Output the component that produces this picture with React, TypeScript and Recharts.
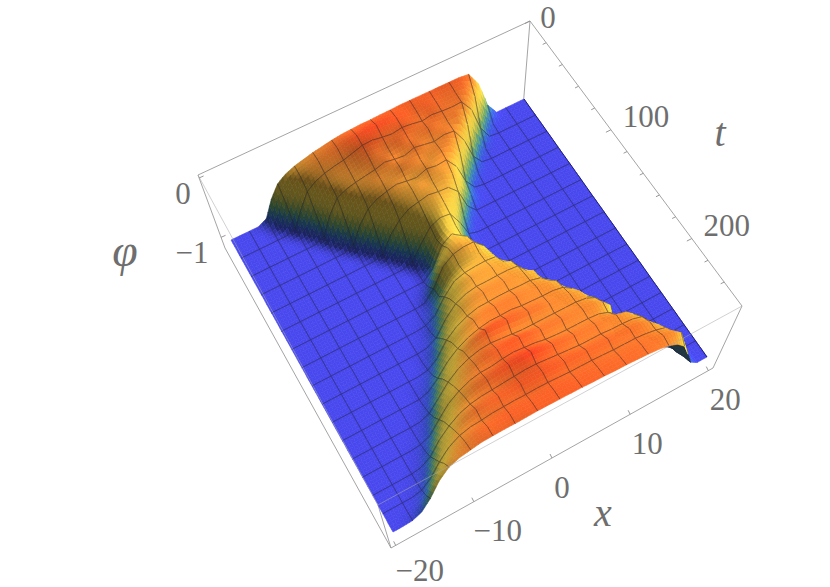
import React from "react";
import { ScatterChart, Scatter, XAxis, YAxis } from "recharts";

// tick labels
const xTicks = [-20, -10, 0, 10, 20];
const tTicks = [0, 20, 40, 60, 80, 100, 120, 140, 160, 180, 200, 220, 240];
const tLabelled = [0, 100, 200];
const phiTicks = [0, -1];

// phi: rows run along t (0..260), columns along x (-20..20), 33 samples each.
// a row stops where the floor (-1) carries on to the x = 20 edge
const phiRows: number[][] = [
  [-1,-1,-1,-1,-.93,-.66,-.46,-.36,-.3,-.26,-.22,-.19,-.16,-.14,-.13,-.12,-.12,-.11,-.11,-.1,-.1,-.1,-.1,-.1,-.1,-.1,-.12,-.36,-.8],
  [-1,-1,-1,-1,-1,-.93,-.64,-.42,-.32,-.26,-.21,-.17,-.14,-.1,-.07,-.05,-.05,-.06,-.08,-.1,-.12,-.1,-.12,-.14,-.13,-.14,-.36,-.76,-.98],
  [-1,-1,-1,-1,-1,-1,-.95,-.68,-.44,-.33,-.27,-.23,-.2,-.15,-.1,-.09,-.12,-.14,-.11,-.13,-.16,-.13,-.15,-.16,-.15,-.36,-.76,-.98],
  [-1,-1,-1,-1,-1,-1,-1,-.95,-.68,-.42,-.32,-.27,-.24,-.2,-.15,-.16,-.18,-.13,-.15,-.18,-.14,-.17,-.19,-.17,-.4,-.8,-.98],
  [-1,-1,-1,-1,-1,-1,-1,-1,-.93,-.62,-.4,-.32,-.28,-.25,-.22,-.17,-.2,-.22,-.16,-.19,-.22,-.18,-.2,-.44,-.8,-.98],
  [-1,-1,-1,-1,-1,-1,-1,-1,-1,-.93,-.62,-.42,-.33,-.27,-.24,-.26,-.2,-.18,-.22,-.25,-.2,-.22,-.44,-.78,-.97],
  [-1,-1,-1,-1,-1,-1,-1,-1,-1,-1,-.93,-.64,-.44,-.34,-.29,-.25,-.28,-.3,-.23,-.26,-.24,-.44,-.78,-.97],
  [-1,-1,-1,-1,-1,-1,-1,-1,-1,-1,-1,-.95,-.68,-.48,-.37,-.32,-.29,-.26,-.3,-.27,-.33,-.56,-.88],
  [-1,-1,-1,-1,-1,-1,-1,-1,-1,-1,-1,-1,-.95,-.68,-.5,-.38,-.34,-.3,-.33,-.34,-.5,-.84],
  [-1,-1,-1,-1,-1,-1,-1,-1,-1,-1,-1,-1,-1,-.95,-.7,-.5,-.4,-.35,-.37,-.46,-.78,-.98],
  [-1,-1,-1,-1,-1,-1,-1,-1,-1,-1,-1,-1,-1,-1,-.95,-.7,-.48,-.4,-.42,-.66,-.95],
  [-1,-1,-1,-1,-1,-1,-1,-1,-1,-1,-1,-1,-1,-1,-1,-.88,-.54,-.42,-.48,-.8],
  [-1,-1,-1,-1,-1,-1,-1,-1,-1,-1,-1,-1,-1,-1,-1,-.85,-.5,-.38,-.5,-.9],
  [-1,-1,-1,-1,-1,-1,-1,-1,-1,-1,-1,-1,-1,-1,-.93,-.62,-.38,-.32,-.36,-.7,-.96],
  [-1,-1,-1,-1,-1,-1,-1,-1,-1,-1,-1,-1,-1,-.98,-.8,-.48,-.34,-.3,-.3,-.46,-.82],
  [-1,-1,-1,-1,-1,-1,-1,-1,-1,-1,-1,-1,-1,-.95,-.78,-.52,-.38,-.36,-.34,-.4,-.72,-.97],
  [-1,-1,-1,-1,-1,-1,-1,-1,-1,-1,-1,-1,-.98,-.88,-.62,-.42,-.36,-.34,-.33,-.35,-.54,-.9],
  [-1,-1,-1,-1,-1,-1,-1,-1,-1,-1,-1,-1,-.95,-.76,-.5,-.36,-.28,-.27,-.28,-.3,-.37,-.68,-.97],
  [-1,-1,-1,-1,-1,-1,-1,-1,-1,-1,-1,-.98,-.88,-.62,-.42,-.33,-.29,-.29,-.28,-.28,-.3,-.48,-.88],
  [-1,-1,-1,-1,-1,-1,-1,-1,-1,-1,-1,-.93,-.72,-.5,-.34,-.26,-.22,-.22,-.22,-.24,-.27,-.32,-.64,-.97],
  [-1,-1,-1,-1,-1,-1,-1,-1,-1,-1,-.97,-.84,-.58,-.42,-.32,-.26,-.25,-.24,-.24,-.25,-.25,-.3,-.44,-.8],
  [-1,-1,-1,-1,-1,-1,-1,-1,-1,-.98,-.9,-.68,-.46,-.32,-.22,-.18,-.17,-.17,-.17,-.2,-.21,-.23,-.3,-.56,-.95],
  [-1,-1,-1,-1,-1,-1,-1,-1,-1,-.94,-.78,-.56,-.4,-.29,-.22,-.18,-.18,-.17,-.2,-.21,-.22,-.22,-.26,-.38,-.74,-.98],
  [-1,-1,-1,-1,-1,-1,-1,-1,-.97,-.86,-.62,-.44,-.28,-.16,-.08,-.07,-.09,-.12,-.14,-.15,-.19,-.2,-.22,-.27,-.46,-.88],
  [-1,-1,-1,-1,-1,-1,-1,-.99,-.92,-.72,-.5,-.34,-.24,-.18,-.16,-.18,-.2,-.22,-.22,-.22,-.22,-.22,-.22,-.25,-.34,-.62,-.96],
  [-1,-1,-1,-1,-1,-1,-1,-.96,-.82,-.56,-.4,-.27,-.18,-.12,-.1,-.08,-.08,-.1,-.14,-.15,-.16,-.18,-.19,-.2,-.26,-.42,-.82],
  [-1,-1,-1,-1,-1,-1,-.98,-.9,-.68,-.46,-.32,-.22,-.17,-.16,-.12,-.1,-.12,-.14,-.18,-.2,-.21,-.21,-.21,-.23,-.3,-.56,-.93],
  [-1,-1,-1,-1,-1,-1,-.94,-.78,-.54,-.38,-.26,-.16,-.12,-.08,-.06,-.04,-.03,-.06,-.1,-.12,-.14,-.16,-.16,-.18,-.19,-.24,-.38,-.72,-.98],
  [-1,-1,-1,-1,-1,-.97,-.86,-.62,-.44,-.3,-.22,-.18,-.16,-.14,-.12,-.1,-.1,-.12,-.14,-.16,-.18,-.18,-.18,-.2,-.2,-.22,-.28,-.5,-.86],
  [-1,-1,-1,-1,-.99,-.92,-.72,-.5,-.34,-.22,-.14,-.12,-.1,-.1,-.08,-.08,-.08,-.08,-.1,-.1,-.11,-.12,-.12,-.14,-.14,-.16,-.22,-.36,-.66,-.96],
  [-1,-1,-1,-1,-.96,-.82,-.58,-.38,-.26,-.2,-.18,-.15,-.14,-.13,-.13,-.12,-.12,-.13,-.14,-.14,-.14,-.15,-.16,-.16,-.16,-.18,-.22,-.28,-.46,-.82],
  [-1,-1,-1,-.98,-.88,-.66,-.42,-.28,-.2,-.14,-.12,-.11,-.1,-.1,-.1,-.1,-.1,-.1,-.11,-.11,-.12,-.12,-.13,-.13,-.14,-.15,-.17,-.2,-.32,-.6,-.94],
  [-1,-1,-.99,-.92,-.74,-.48,-.3,-.22,-.18,-.14,-.13,-.12,-.12,-.11,-.1,-.1,-.1,-.1,-.1,-.11,-.11,-.12,-.12,-.13,-.14,-.16,-.2,-.28,-.42,-.66,-.9],
];

const WIDTH = 830;
const HEIGHT = 587;
const T_MAX = 262;
const N = 32;
const MESH_EVERY = 2;
const SUB = 3;

type Pt = [number, number];

// picture positions of the box and of the surface, corners in the order
// (x=-20,t=0) (x=20,t=0) (x=20,t=max) (x=-20,t=max)
const floorCorners: Pt[] = [[231, 240], [524, 99], [707, 357], [393, 532]];
const topCorners: Pt[] = [[211, 186], [528, 40], [742, 299], [380, 489]];
const boxBottom: Pt[] = [[225, 248], [523, 108], [713, 368], [391, 548]];
const boxTop: Pt[] = [[198, 175], [530, 21], [742, 306], [378, 505]];
const nadir: Pt = [484, 756];

const bilinear = (c: Pt[], u: number, v: number): Pt => [
  (1 - v) * ((1 - u) * c[0][0] + u * c[1][0]) + v * ((1 - u) * c[3][0] + u * c[2][0]),
  (1 - v) * ((1 - u) * c[0][1] + u * c[1][1]) + v * ((1 - u) * c[3][1] + u * c[2][1]),
];

const surfacePoint = (u: number, v: number, phi: number): Pt => {
  const f = bilinear(floorCorners, u, v);
  const t = bilinear(topCorners, u, v);
  const w = phi + 1;
  return [f[0] + (t[0] - f[0]) * w, f[1] + (t[1] - f[1]) * w];
};

const boxPoint = (u: number, v: number, w: number): Pt => {
  const b = bilinear(boxBottom, u, v);
  const t = bilinear(boxTop, u, v);
  return [b[0] + (t[0] - b[0]) * w, b[1] + (t[1] - b[1]) * w];
};

const phiAt = (i: number, j: number) => {
  const row = phiRows[Math.max(0, Math.min(N, j))];
  return row[Math.max(0, Math.min(N, i))] ?? -1;
};
const gradX = (i: number, j: number) => (phiAt(i + 1, j) - phiAt(i - 1, j)) / 2;
const gradT = (i: number, j: number) => (phiAt(i, j + 1) - phiAt(i, j - 1)) / 2;

const mix4 = (a: number, b: number, c: number, d: number, s: number, r: number) =>
  (1 - r) * ((1 - s) * a + s * b) + r * ((1 - s) * d + s * c);

const colorStops: [number, number, number, number][] = [
  [-1, 72, 72, 238],
  [-0.93, 60, 90, 225],
  [-0.85, 55, 130, 185],
  [-0.75, 100, 165, 110],
  [-0.65, 170, 180, 80],
  [-0.55, 230, 205, 70],
  [-0.42, 245, 205, 65],
  [-0.3, 250, 170, 55],
  [-0.18, 250, 130, 45],
  [-0.08, 250, 88, 35],
  [0, 245, 50, 30],
];

const surfaceColor = (phi: number, light: number) => {
  let k = 0;
  while (k < colorStops.length - 2 && phi > colorStops[k + 1][0]) k++;
  const a = colorStops[k];
  const b = colorStops[k + 1];
  const f = Math.max(0, Math.min(1, (phi - a[0]) / (b[0] - a[0])));
  const ch = (n: number) => Math.min(255, Math.round((a[n] + (b[n] - a[n]) * f) * light));
  return `rgb(${ch(1)},${ch(2)},${ch(3)})`;
};

// slope towards the light: falling away from it darkens fast, facing it only brightens a little
const lightFor = (dx: number, dt: number) => {
  const s = dx - 0.9 * dt;
  if (s > 0) return Math.max(0.42, 1 - 2.6 * Math.pow(s, 0.9));
  return Math.min(1.12, 1 - 0.8 * s);
};

const floorSign = Math.sign(
  (floorCorners[1][0] - floorCorners[0][0]) * (floorCorners[3][1] - floorCorners[0][1]) -
    (floorCorners[1][1] - floorCorners[0][1]) * (floorCorners[3][0] - floorCorners[0][0]),
);

const distToNadir = (p: Pt) => Math.hypot(p[0] - nadir[0], p[1] - nadir[1]);

// one cell of the surface, drawn in smaller facets so the shading reads as smooth
function buildFacets(i: number, j: number) {
  const p00 = phiAt(i, j);
  const p10 = phiAt(i + 1, j);
  const p11 = phiAt(i + 1, j + 1);
  const p01 = phiAt(i, j + 1);
  const gx = [gradX(i, j), gradX(i + 1, j), gradX(i + 1, j + 1), gradX(i, j + 1)];
  const gt = [gradT(i, j), gradT(i + 1, j), gradT(i + 1, j + 1), gradT(i, j + 1)];
  const vertex = (a: number, b: number) =>
    surfacePoint((i + a / SUB) / N, (j + b / SUB) / N, mix4(p00, p10, p11, p01, a / SUB, b / SUB));
  const facets: { points: string; fill: string; order: number }[] = [];
  for (let a = 0; a < SUB; a++) {
    for (let b = 0; b < SUB; b++) {
      const q = [vertex(a, b), vertex(a + 1, b), vertex(a + 1, b + 1), vertex(a, b + 1)];
      const s = (a + 0.5) / SUB;
      const r = (b + 0.5) / SUB;
      const phi = mix4(p00, p10, p11, p01, s, r);
      const dx = mix4(gx[0], gx[1], gx[2], gx[3], s, r);
      const dt = mix4(gt[0], gt[1], gt[2], gt[3], s, r);
      const area =
        (q[2][0] - q[0][0]) * (q[3][1] - q[1][1]) - (q[2][1] - q[0][1]) * (q[3][0] - q[1][0]);
      const back = Math.sign(area) !== floorSign;
      facets.push({
        points: q.map((p) => `${p[0].toFixed(1)},${p[1].toFixed(1)}`).join(" "),
        fill: back ? "#22363c" : surfaceColor(phi, lightFor(dx, dt)),
        order: distToNadir(bilinear(floorCorners, (i + s) / N, (j + r) / N)),
      });
    }
  }
  facets.sort((x, y) => y.order - x.order);

  const edge = (fn: (k: number) => Pt) => {
    const out: string[] = [];
    for (let k = 0; k <= SUB; k++) {
      const p = fn(k);
      out.push(`${p[0].toFixed(1)},${p[1].toFixed(1)}`);
    }
    return out.join(" ");
  };
  const mesh: string[] = [];
  if (i % MESH_EVERY === 0 && i > 0) mesh.push(edge((k) => vertex(0, k)));
  if ((i + 1) % MESH_EVERY === 0 && i + 1 < N) mesh.push(edge((k) => vertex(SUB, k)));
  if (j % MESH_EVERY === 0 && j > 0) mesh.push(edge((k) => vertex(k, 0)));
  if ((j + 1) % MESH_EVERY === 0 && j + 1 < N) mesh.push(edge((k) => vertex(k, SUB)));
  const rim = i === N - 1 ? edge((k) => vertex(SUB, k)) : null;
  return { facets, mesh, rim };
}

const cells: any[] = [];
for (let j = 0; j < N; j++) {
  for (let i = 0; i < N; i++) {
    const centre = bilinear(floorCorners, (i + 0.5) / N, (j + 0.5) / N);
    cells.push({ sx: centre[0], sy: centre[1], order: distToNadir(centre), ...buildFacets(i, j) });
  }
}
cells.sort((a, b) => b.order - a.order);

const CellShape = (props: any) => {
  const { cx, cy, payload } = props;
  const tx = cx - payload.sx;
  const ty = cy - payload.sy;
  return (
    <g transform={`translate(${tx},${ty})`}>
      {payload.facets.map((f: any, k: number) => (
        <polygon key={k} points={f.points} fill={f.fill} stroke={f.fill} strokeWidth={0.6} />
      ))}
      {payload.rim && <polyline points={payload.rim} fill="none" stroke="#1a1a70" strokeWidth={1} />}
      {payload.mesh.map((m: string, k: number) => (
        <polyline key={k} points={m} fill="none" stroke="#1c1c2c" strokeOpacity={0.6} strokeWidth={0.7} />
      ))}
    </g>
  );
};

const toPoint = (p: Pt, extra: object = {}) => ({ sx: p[0], sy: p[1], ...extra });
const xToU = (x: number) => (x + 20.6) / 41.2;
const tToV = (t: number) => t / T_MAX;
const phiToW = (phi: number) => (phi + 1.18) / 1.23;

const backEdges: Pt[][] = [
  [boxTop[0], boxTop[1]],
  [boxTop[1], boxTop[2]],
  [boxTop[1], boxBottom[1]],
  [boxTop[0], boxBottom[0]],
  [boxBottom[0], boxBottom[3]],
  [boxBottom[3], boxBottom[2]],
  [boxBottom[2], boxTop[2]],
  [boxTop[3], boxBottom[3]],
];
const frontEdges: Pt[][] = [
  [boxTop[0], boxTop[3]],
  [boxTop[3], boxTop[2]],
];

const xTickPoints = xTicks.map((x) => {
  const label = x < 0 ? `\u2212${Math.abs(x)}` : String(x);
  return toPoint(boxPoint(xToU(x), 1, 0), {
    label,
    dir: [-2, -4],
    off: [3 + 7 * label.length, x === -20 ? 25 : 29],
  });
});
const tTickPoints = tTicks.map((t) =>
  toPoint(boxPoint(1, tToV(t), 1), {
    label: tLabelled.includes(t) ? String(t) : "",
    dir: t % 100 === 0 ? [-5, 2.5] : [-3.5, 1.7],
    off: [t === 0 ? 18 : 35, t === 0 ? -4 : -13],
  }),
);
const phiTickPoints = phiTicks.map((p) => {
  const label = p < 0 ? `\u2212${Math.abs(p)}` : String(p);
  return toPoint(boxPoint(0, 0, phiToW(p)), {
    label,
    dir: [4.5, -2],
    off: p === 0 ? [-16, 16] : [-29, 15],
  });
});

// axis titles sit beside the box
const titlePoints = [
  { sx: 603, sy: 512, title: "x", size: 40 },
  { sx: 720, sy: 132, title: "t", size: 40 },
  { sx: 125, sy: 250, title: "\u03c6", size: 46 },
];

const TickShape = (props: any) => {
  const { cx, cy, payload } = props;
  return (
    <g>
      <line x1={cx} y1={cy} x2={cx + payload.dir[0]} y2={cy + payload.dir[1]} stroke="#8c8c8c" strokeWidth={0.9} />
      {payload.label && (
        <text
          x={cx + payload.off[0]}
          y={cy + payload.off[1]}
          textAnchor="middle"
          dominantBaseline="central"
          fontFamily="Liberation Serif"
          fontSize={31}
          fill="#6e6e6e"
        >
          {payload.label}
        </text>
      )}
    </g>
  );
};

const TitleShape = (props: any) => (
  <text
    x={props.cx}
    y={props.cy}
    textAnchor="middle"
    dominantBaseline="central"
    fontFamily="Liberation Serif"
    fontStyle="italic"
    fontSize={props.payload.size}
    fill="#6e6e6e"
  >
    {props.payload.title}
  </text>
);

const NoDot = () => <g />;

const EdgeSeries = (edges: Pt[][], stroke: string, name: string) =>
  edges.map((edge, k) => (
    <Scatter
      key={`${name}${k}`}
      data={edge.map((p) => toPoint(p))}
      line={{ stroke, strokeWidth: 0.9 }}
      shape={NoDot}
      isAnimationActive={false}
    />
  ));

export default function App() {
  return (
    <div style={{ position: "absolute", left: 0, top: 0, width: WIDTH, height: HEIGHT, background: "#fff" }}>
      <ScatterChart width={WIDTH} height={HEIGHT} margin={{ top: 0, right: 0, bottom: 0, left: 0 }}>
        <XAxis type="number" dataKey="sx" domain={[0, WIDTH]} hide />
        <YAxis type="number" dataKey="sy" domain={[0, HEIGHT]} reversed hide />
        {EdgeSeries(backEdges, "#9a9a9a", "back")}
        <Scatter data={cells} shape={CellShape} isAnimationActive={false} />
        {EdgeSeries(frontEdges, "rgba(170,170,170,0.6)", "front")}
        <Scatter data={xTickPoints} shape={TickShape} isAnimationActive={false} />
        <Scatter data={tTickPoints} shape={TickShape} isAnimationActive={false} />
        <Scatter data={phiTickPoints} shape={TickShape} isAnimationActive={false} />
        <Scatter data={titlePoints} shape={TitleShape} isAnimationActive={false} />
      </ScatterChart>
    </div>
  );
}
